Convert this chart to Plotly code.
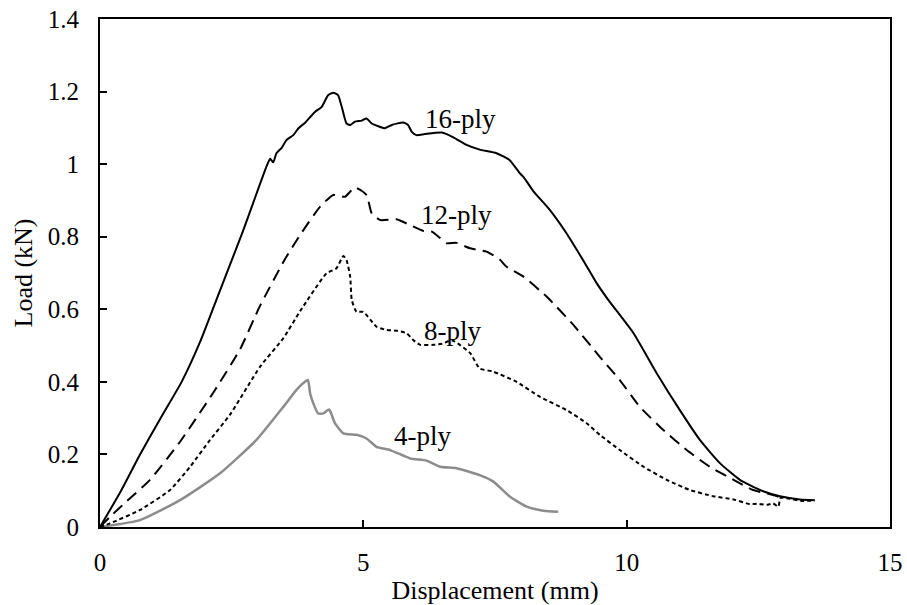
import plotly.graph_objects as go

# ---- data ----
x16 = [0, 0.4, 0.76, 1.15, 1.55, 1.9, 2.21, 2.7, 3.16, 3.23, 3.29, 3.35, 3.45, 3.54, 3.67, 3.77, 3.9, 4.08,
       4.21, 4.33, 4.43, 4.52, 4.59, 4.68, 4.75, 4.84, 4.97, 5.06, 5.16, 5.41, 5.54, 5.76, 5.85, 5.92, 6.01,
       6.17, 6.49, 6.71, 6.96, 7.21, 7.53, 7.78, 7.97, 8.04, 8.23, 8.54, 8.86, 9.17, 9.43, 9.65, 10.13, 10.57,
       11.01, 11.39, 11.77, 12.15, 12.53, 12.91, 13.29, 13.57]
y16 = [0, 0.1, 0.2, 0.3, 0.4, 0.51, 0.626, 0.81, 0.993, 1.015, 1.005, 1.03, 1.045, 1.066, 1.08, 1.099, 1.115,
       1.144, 1.158, 1.19, 1.197, 1.19, 1.158, 1.112, 1.108, 1.117, 1.12, 1.126, 1.112, 1.099, 1.108, 1.115,
       1.108, 1.089, 1.08, 1.083, 1.087, 1.074, 1.053, 1.04, 1.03, 1.011, 0.975, 0.965, 0.925, 0.874, 0.809,
       0.736, 0.672, 0.626, 0.534, 0.424, 0.322, 0.24, 0.176, 0.13, 0.102, 0.085, 0.076, 0.074]

x12 = [0, 0.19, 0.5, 0.95, 1.52, 2.15, 2.66, 3.04, 3.5, 3.8, 4.18, 4.43, 4.65, 4.84, 5.06, 5.16, 5.32, 5.63,
       5.89, 6.14, 6.30, 6.46, 6.58, 6.77, 7.03, 7.34, 7.59, 7.72, 8.04, 8.48, 9.0, 9.49, 9.87, 10.25, 10.70,
       11.14, 11.58, 12.03, 12.40, 12.78, 13.0]
y12 = [0, 0.028, 0.07, 0.13, 0.235, 0.37, 0.49, 0.61, 0.735, 0.805, 0.883, 0.915, 0.91, 0.936, 0.915, 0.864,
       0.846, 0.848, 0.832, 0.816, 0.814, 0.796, 0.782, 0.783, 0.768, 0.759, 0.737, 0.717, 0.69, 0.635, 0.555,
       0.469, 0.405, 0.331, 0.267, 0.212, 0.166, 0.13, 0.102, 0.088, 0.078]

x8 = [0, 0.19, 0.76, 1.33, 1.71, 2.09, 2.47, 3.04, 3.48, 3.8, 4.30, 4.49, 4.62, 4.68, 4.75, 4.78, 4.87, 5.0,
      5.25, 5.44, 5.63, 5.82, 5.95, 6.08, 6.33, 6.5, 6.68, 6.85, 7.03, 7.21, 7.47, 7.91, 8.35, 8.86, 9.24, 9.49,
      9.87, 10.32, 10.76, 11.20, 11.64, 12.03, 12.34, 12.5, 12.66, 12.78, 12.88, 12.92, 13.1, 13.3, 13.57]
y8 = [0, 0.01, 0.047, 0.102, 0.166, 0.24, 0.31, 0.442, 0.52, 0.595, 0.699, 0.713, 0.747, 0.736, 0.69, 0.626,
      0.593, 0.593, 0.552, 0.543, 0.541, 0.534, 0.515, 0.502, 0.502, 0.505, 0.515, 0.5, 0.479, 0.437, 0.428,
      0.4, 0.359, 0.322, 0.286, 0.254, 0.212, 0.166, 0.13, 0.102, 0.085, 0.076, 0.063, 0.064, 0.061, 0.065,
      0.056, 0.08, 0.078, 0.072, 0.073]

x4 = [0, 0.76, 1.52, 2.28, 2.97, 3.48, 3.73, 3.89, 3.95, 3.99, 4.05, 4.14, 4.24, 4.35, 4.40, 4.46, 4.62, 4.87,
      5.06, 5.25, 5.51, 5.89, 6.20, 6.46, 6.77, 7.21, 7.47, 7.78, 8.10, 8.42, 8.70]
y4 = [0, 0.019, 0.074, 0.148, 0.24, 0.331, 0.378, 0.40, 0.405, 0.368, 0.341, 0.313, 0.313, 0.324, 0.309,
      0.286, 0.258, 0.254, 0.244, 0.221, 0.212, 0.189, 0.183, 0.166, 0.162, 0.143, 0.125, 0.084, 0.056, 0.045,
      0.042]

label_text = ["16-ply", "12-ply", "8-ply", "4-ply"]
label_x = [6.85, 6.77, 6.70, 6.13]
label_y = [1.125, 0.86, 0.54, 0.25]

x_ticks = [0, 5, 10, 15]
y_ticks = [0, 0.2, 0.4, 0.6, 0.8, 1.0, 1.2, 1.4]
y_tick_text = ["0", "0.2", "0.4", "0.6", "0.8", "1", "1.2", "1.4"]

FONT = "Liberation Serif, Times New Roman, serif"

fig = go.Figure()
fig.add_trace(go.Scatter(x=x4, y=y4, mode="lines",
                         line=dict(color="#8c8c8c", width=2.5, shape="spline", smoothing=0.5), name="4-ply"))
fig.add_trace(go.Scatter(x=x8, y=y8, mode="lines",
                         line=dict(color="black", width=2, dash="4px,3px", shape="spline", smoothing=0.5),
                         name="8-ply"))
fig.add_trace(go.Scatter(x=x12, y=y12, mode="lines",
                         line=dict(color="black", width=2, dash="12px,7px", shape="spline", smoothing=0.5),
                         name="12-ply"))
fig.add_trace(go.Scatter(x=x16, y=y16, mode="lines",
                         line=dict(color="black", width=2, shape="spline", smoothing=0.5), name="16-ply"))

for t, xx, yy in zip(label_text, label_x, label_y):
    fig.add_annotation(x=xx, y=yy, text=t, showarrow=False, xanchor="center", yanchor="middle",
                       font=dict(family=FONT, size=27, color="black"))

fig.update_layout(
    width=907, height=605,
    margin=dict(l=100, r=17, t=19, b=78, autoexpand=False),
    paper_bgcolor="white", plot_bgcolor="white",
    showlegend=False,
    font=dict(family=FONT, size=25, color="black"),
)
fig.update_xaxes(range=[0, 15], tickvals=x_ticks, ticks="inside", ticklen=7, tickwidth=1.5, tickcolor="black",
                 showline=True, linecolor="black", linewidth=2, mirror=True, showgrid=False, zeroline=False,
                 automargin=False,
                 title=dict(text="Displacement (mm)", font=dict(size=26), standoff=6),
                 tickfont=dict(size=25), ticklabelstandoff=12)
fig.update_yaxes(range=[0, 1.4], tickvals=y_ticks, ticktext=y_tick_text, ticks="inside", ticklen=7, tickwidth=1.5,
                 tickcolor="black", showline=True, linecolor="black", linewidth=2, mirror=True, showgrid=False,
                 zeroline=False, automargin=False,
                 title=dict(text="Load (kN)", font=dict(size=26), standoff=8),
                 tickfont=dict(size=25), ticklabelstandoff=14)

fig.write_html("out.html")
